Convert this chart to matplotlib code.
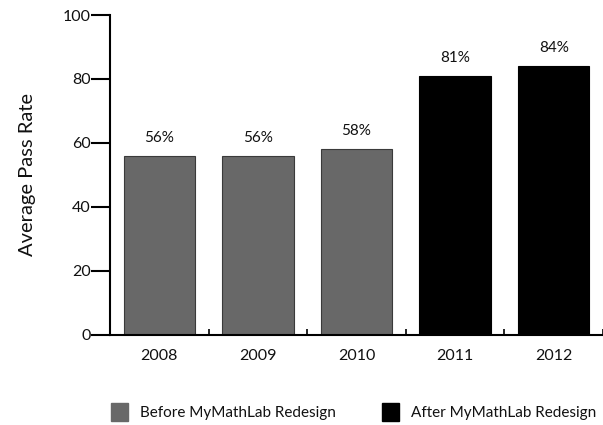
import matplotlib
matplotlib.use("Agg")
import matplotlib.pyplot as plt
from matplotlib.patches import Patch
from matplotlib.ticker import FixedLocator

# data
years = ["2008", "2009", "2010", "2011", "2012"]
pass_rates = [56, 56, 58, 81, 84]
redesigned = [False, False, False, True, True]
y_ticks = [0, 20, 40, 60, 80, 100]

plt.rcParams["font.family"] = ["Lato", "DejaVu Sans"]

gray = "#686868"
black = "#000000"

fig = plt.figure(figsize=(6.03, 4.25), dpi=100)
ax = fig.add_axes([0.1824, 0.2118, 0.8176, 0.7529])

x = list(range(len(years)))
colors = [black if r else gray for r in redesigned]
edges = ["#000000" if r else "#3a3a3a" for r in redesigned]
bars = ax.bar(x, pass_rates, width=0.725, color=colors, edgecolor=edges,
              linewidth=0.8, zorder=2)

# percentage labels above each bar
for xi, v in zip(x, pass_rates):
    ax.annotate(f"{v}%", (xi, v), xytext=(0, 8), textcoords="offset points",
                ha="center", va="bottom", fontsize=11, color="#111111")

ax.set_xlim(-0.5, len(years) - 0.5)
ax.set_ylim(0, 100)
ax.set_yticks(y_ticks)
ax.set_xticks(x)
ax.set_xticklabels(years)
ax.xaxis.set_minor_locator(FixedLocator([i + 0.5 for i in x]))

ax.tick_params(axis="y", direction="out", length=14, width=1.5, pad=0,
               labelsize=11.5, labelcolor="#111111")
ax.tick_params(axis="x", which="major", length=0, pad=10, labelsize=11.5,
               labelcolor="#111111")
ax.tick_params(axis="x", which="minor", direction="in", length=4, width=1.2)

for side in ["top", "right"]:
    ax.spines[side].set_visible(False)
for side in ["left", "bottom"]:
    ax.spines[side].set_linewidth(1.5)

ax.set_ylabel("Average Pass Rate", fontsize=14.5, labelpad=19, color="#111111")

handles = [Patch(facecolor=gray, edgecolor=gray, label="Before MyMathLab Redesign"),
           Patch(facecolor=black, edgecolor=black, label="After MyMathLab Redesign")]
fig.legend(handles=handles, loc="center", bbox_to_anchor=(0.587, 0.031), ncol=2,
           frameon=False, fontsize=11, handlelength=1.1, handleheight=1.4,
           handletextpad=0.8, columnspacing=3.0, labelcolor="#111111")

fig.savefig("out.png", dpi=100)
